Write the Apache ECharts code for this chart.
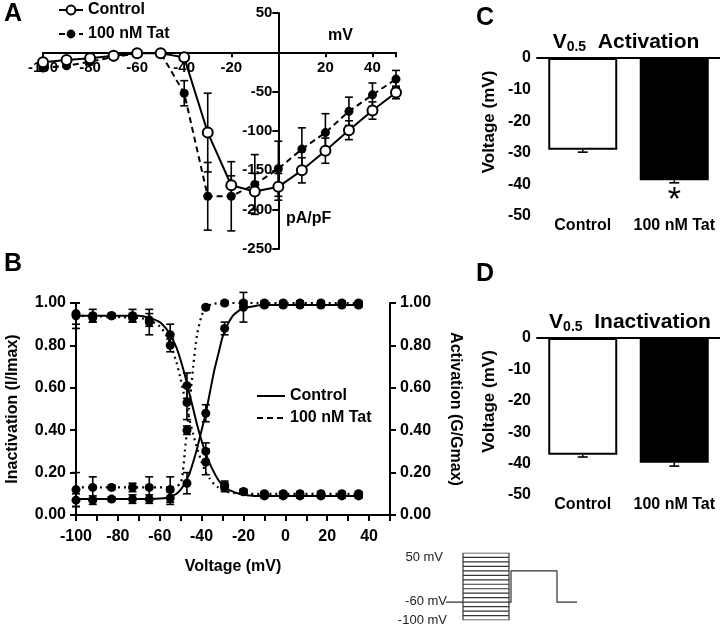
<!DOCTYPE html>
<html>
<head>
<meta charset="utf-8">
<script src="https://cdn.jsdelivr.net/npm/echarts@6/dist/echarts.min.js"></script>
<style>
  html, body { margin: 0; padding: 0; background: #fff; }
  #chart { width: 720px; height: 628px; }
</style>
</head>
<body>
<div id="chart"></div>
<script>
const FONT = "Liberation Sans, Arial, sans-serif";

// ---- panel A: I-V curve (pA/pF vs mV) ----
const ivVolt = [-100, -90, -80, -70, -60, -50, -40, -30, -20, -10, 0, 10, 20, 30, 40, 50];
const ivCtrl = [-12.7, -9.7, -7.6, -4.2, -1.3, -1.3, -6.4, -102, -169, -177, -171, -150, -125, -99, -74, -51];
const ivCtrlErr = [2, 2, 2, 2, 1, 1, 3, 50, 12, 23, 17, 16, 16, 12, 11, 8];
const ivTat = [-20, -17, -12, -6, -1, -1, -52, -183, -183, -168, -148, -123, -102, -75, -54, -34];
const ivTatErr = [2, 2, 2, 2, 1, 1, 16, 43, 44, 38, 35, 27, 24, 18, 15, 11];

// ---- panel B: steady-state activation / inactivation ----
const bVolt = [-100, -92, -83, -73, -65, -55, -47, -38, -29, -20, -10, -1, 7, 17, 27, 35];
const inactCtrl = [0.94, 0.94, 0.94, 0.94, 0.92, 0.85, 0.61, 0.30, 0.14, 0.11, 0.09, 0.09, 0.09, 0.09, 0.09, 0.09];
const inactCtrlErr = [0.06, 0.03, 0.01, 0.03, 0.03, 0.05, 0.06, 0.04, 0.02, 0.01, 0.01, 0.01, 0.01, 0.01, 0.01, 0.01];
const inactTat = [0.95, 0.93, 0.94, 0.93, 0.91, 0.80, 0.53, 0.25, 0.13, 0.11, 0.10, 0.10, 0.10, 0.10, 0.10, 0.10];
const inactTatErr = [0.05, 0.02, 0.01, 0.02, 0.06, 0.03, 0.08, 0.06, 0.02, 0.01, 0.01, 0.01, 0.01, 0.01, 0.01, 0.01];
const actCtrl = [0.07, 0.07, 0.075, 0.075, 0.075, 0.08, 0.15, 0.48, 0.88, 0.98, 0.99, 0.99, 0.99, 0.99, 0.99, 0.99];
const actCtrlErr = [0.03, 0.02, 0.01, 0.02, 0.02, 0.03, 0.05, 0.04, 0.03, 0.07, 0.01, 0.01, 0.01, 0.01, 0.01, 0.01];
const actTat = [0.12, 0.13, 0.13, 0.13, 0.13, 0.12, 0.40, 0.98, 1.00, 1.00, 1.00, 1.00, 1.00, 1.00, 1.00, 1.00];
const actTatErr = [0.08, 0.05, 0.01, 0.02, 0.05, 0.06, 0.02, 0.01, 0.01, 0.01, 0.01, 0.01, 0.01, 0.01, 0.01, 0.01];

// Boltzmann fit curves as [mV, value]
const fitInactCtrl = [[-100,0.94],[-70,0.94],[-65,0.93],[-60,0.91],[-57,0.88],[-55,0.85],[-52,0.79],[-50,0.73],[-48,0.66],[-46,0.58],[-44,0.50],[-42,0.42],[-40,0.35],[-38,0.29],[-36,0.24],[-34,0.20],[-32,0.165],[-30,0.14],[-28,0.125],[-25,0.11],[-22,0.10],[-20,0.095],[-15,0.09],[35,0.09]];
const fitInactTat = [[-100,0.94],[-70,0.93],[-65,0.92],[-60,0.89],[-57,0.85],[-55,0.81],[-52,0.72],[-50,0.64],[-48,0.55],[-46,0.46],[-44,0.38],[-42,0.31],[-40,0.25],[-38,0.20],[-36,0.17],[-34,0.145],[-32,0.13],[-30,0.12],[-28,0.11],[-25,0.105],[-20,0.10],[35,0.10]];
const fitActCtrl = [[-100,0.075],[-65,0.076],[-60,0.078],[-57,0.08],[-55,0.085],[-52,0.10],[-50,0.12],[-48,0.15],[-46,0.19],[-44,0.25],[-42,0.32],[-40,0.40],[-38,0.48],[-36,0.58],[-34,0.68],[-32,0.76],[-30,0.84],[-28,0.89],[-25,0.94],[-22,0.965],[-20,0.975],[-15,0.985],[-10,0.99],[35,0.99]];
const fitActTat = [[-100,0.13],[-55,0.13],[-52,0.135],[-50,0.15],[-49,0.2],[-48,0.30],[-47,0.40],[-46,0.50],[-45,0.60],[-44,0.70],[-43,0.79],[-42,0.86],[-40,0.94],[-38,0.98],[-35,0.995],[-30,1.0],[35,1.0]];

// ---- panels C, D: V0.5 bars ----
const groups = ["Control", "100 nM Tat"];
const v05Act = [-29.0, -38.7];
const v05ActErr = [0.8, 0.8];
const v05Inact = [-37.2, -39.7];
const v05InactErr = [0.7, 1.1];

// ---- voltage protocol sketch ----
const protoLevels = [-100, -90, -80, -70, -60, -50, -40, -30, -20, -10, 0, 10, 20, 30, 40, 50];
const protoBox = [17, 63];
const protoLead = [[0, -60], [17, -60]];
const protoTest = [[63, -60], [65, -60], [65, 10], [111, 10], [111, -60], [131, -60]];

const zip = (xs, ys, es) => xs.map((x, i) => es ? [x, ys[i], es[i]] : [x, ys[i]]);

function errBars(cap, oneSided) {
  return (params, api) => {
    const x = api.value(0), y = api.value(1), e = api.value(2);
    const hi = api.coord([x, oneSided ? y : y + e]);
    const lo = api.coord([x, y - e]);
    const style = { stroke: "#000", lineWidth: 1.6 };
    const kids = [
      { type: "line", shape: { x1: hi[0], y1: hi[1], x2: lo[0], y2: lo[1] }, style },
      { type: "line", shape: { x1: lo[0] - cap, y1: lo[1], x2: lo[0] + cap, y2: lo[1] }, style }
    ];
    if (!oneSided) kids.push({ type: "line", shape: { x1: hi[0] - cap, y1: hi[1], x2: hi[0] + cap, y2: hi[1] }, style });
    return { type: "group", children: kids };
  };
}

// panel A axes cross at the origin: shift them in from the grid edges
const gridA = { left: 43, top: 13, width: 353, height: 236 };
const ivX = [-100, 50], ivY = [-250, 50];
const xOffA = -gridA.height * (0 - ivY[0]) / (ivY[1] - ivY[0]);
const yOffA = -gridA.width * (0 - ivX[0]) / (ivX[1] - ivX[0]);

const line2 = { color: "#000", width: 2 };
const lbl = (size, extra) => Object.assign({ color: "#000", fontWeight: "bold", fontSize: size, fontFamily: FONT }, extra);

const chart = echarts.init(document.getElementById("chart"), null, { renderer: "canvas" });

const option = {
  backgroundColor: "#fff",
  animation: false,
  textStyle: { fontFamily: FONT, color: "#000" },
  grid: [
    gridA,                                            // A
    { left: 76, top: 303, width: 314, height: 212 },  // B
    { left: 537, top: 58, width: 183, height: 158 },  // C
    { left: 537, top: 338, width: 183, height: 157 }, // D
    { left: 446, top: 553, width: 131, height: 67 }   // protocol
  ],
  xAxis: [
    { gridIndex: 0, type: "value", min: ivX[0], max: ivX[1], interval: 20,
      position: "bottom", offset: xOffA, splitLine: { show: false },
      axisLine: { onZero: false, lineStyle: line2 }, axisTick: { length: 5, lineStyle: line2 },
      axisLabel: lbl(15, { margin: 8, formatter: v => (v === 0 || v === ivX[1]) ? "" : v }) },
    { gridIndex: 1, type: "value", min: -100, max: 50, interval: 10, splitLine: { show: false },
      axisLine: { onZero: false, lineStyle: line2 }, axisTick: { length: 6, lineStyle: line2 },
      axisLabel: lbl(16, { margin: 14, formatter: v => v % 20 === 0 ? v : "" }),
      name: "Voltage (mV)", nameLocation: "middle", nameGap: 44,
      nameTextStyle: lbl(16) },
    { gridIndex: 2, type: "category", data: groups, position: "bottom",
      axisLine: { show: false, onZero: false }, axisTick: { show: false },
      axisLabel: lbl(16, { margin: 2, interval: 0 }) },
    { gridIndex: 2, type: "category", data: groups, position: "top",
      axisLine: { onZero: false, lineStyle: line2 }, axisTick: { show: false }, axisLabel: { show: false } },
    { gridIndex: 3, type: "category", data: groups, position: "bottom",
      axisLine: { show: false, onZero: false }, axisTick: { show: false },
      axisLabel: lbl(16, { margin: 2, interval: 0 }) },
    { gridIndex: 3, type: "category", data: groups, position: "top",
      axisLine: { onZero: false, lineStyle: line2 }, axisTick: { show: false }, axisLabel: { show: false } },
    { gridIndex: 4, type: "value", min: 0, max: 131, show: false }
  ],
  yAxis: [
    { gridIndex: 0, type: "value", min: ivY[0], max: ivY[1], interval: 50,
      position: "left", offset: yOffA, splitLine: { show: false },
      axisLine: { onZero: false, lineStyle: line2 }, axisTick: { length: 6, lineStyle: line2 },
      axisLabel: lbl(15, { margin: 6, formatter: v => v === 0 ? "" : v }) },
    { gridIndex: 1, type: "value", min: 0, max: 1, interval: 0.2, splitLine: { show: false },
      axisLine: { onZero: false, lineStyle: line2 }, axisTick: { length: 6, lineStyle: line2 },
      axisLabel: lbl(16, { margin: 10, formatter: v => v.toFixed(2) }),
      name: "Inactivation (I/Imax)", nameLocation: "middle", nameGap: 55, nameRotate: 90,
      nameTextStyle: lbl(16) },
    { gridIndex: 1, type: "value", position: "right", min: 0, max: 1, interval: 0.2, splitLine: { show: false },
      axisLine: { onZero: false, lineStyle: line2 }, axisTick: { length: 6, lineStyle: line2 },
      axisLabel: lbl(16, { margin: 10, formatter: v => v.toFixed(2) }),
      name: "Activation (G/Gmax)", nameLocation: "middle", nameGap: 57, nameRotate: -90,
      nameTextStyle: lbl(16) },
    { gridIndex: 2, type: "value", min: -50, max: 0, interval: 10, splitLine: { show: false },
      axisLine: { onZero: false, lineStyle: line2 }, axisTick: { length: 6, lineStyle: line2 },
      axisLabel: lbl(16, { margin: 6 }),
      name: "Voltage (mV)", nameLocation: "middle", nameGap: 39, nameRotate: 90,
      nameTextStyle: lbl(17, { padding: [0, 0, 0, 30] }) },
    { gridIndex: 3, type: "value", min: -50, max: 0, interval: 10, splitLine: { show: false },
      axisLine: { onZero: false, lineStyle: line2 }, axisTick: { length: 6, lineStyle: line2 },
      axisLabel: lbl(16, { margin: 6 }),
      name: "Voltage (mV)", nameLocation: "middle", nameGap: 39, nameRotate: 90,
      nameTextStyle: lbl(17, { padding: [0, 0, 0, 30] }) },
    { gridIndex: 4, type: "value", min: -100, max: 50, show: false }
  ],
  title: [
    { text: "{v|V}{s|0.5}{t|  Activation}", left: 621, top: 25, textAlign: "center",
      textStyle: { rich: {
        v: lbl(21), t: lbl(21),
        s: lbl(14, { verticalAlign: "bottom", padding: [10, 0, 0, 0] }) } } },
    { text: "{v|V}{s|0.5}{t|  Inactivation}", left: 625, top: 305, textAlign: "center",
      textStyle: { rich: {
        v: lbl(21), t: lbl(21),
        s: lbl(14, { verticalAlign: "bottom", padding: [10, 0, 0, 0] }) } } }
  ],
  legend: [
    { data: ["Control", "100 nM Tat"], orient: "vertical", left: 53, top: -3, itemGap: 8,
      itemWidth: 24, itemHeight: 11, textStyle: lbl(16) },
    { data: [
        { name: "Control (fit)", lineStyle: { type: "solid", color: "#000", width: 2 } },
        { name: "100 nM Tat (fit)", lineStyle: { type: [6, 4], color: "#000", width: 2 } }
      ],
      formatter: n => n.replace(" (fit)", ""),
      itemStyle: { opacity: 0 },
      orient: "vertical", left: 251, top: 383, itemGap: 6, itemWidth: 28, itemHeight: 12,
      textStyle: lbl(16) }
  ],
  graphic: [
    { type: "text", left: 4, top: 2, style: { text: "A", font: "bold 25px " + FONT, fill: "#000" } },
    { type: "text", left: 4, top: 252, style: { text: "B", font: "bold 25px " + FONT, fill: "#000" } },
    { type: "text", left: 476, top: 6, style: { text: "C", font: "bold 25px " + FONT, fill: "#000" } },
    { type: "text", left: 476, top: 262, style: { text: "D", font: "bold 25px " + FONT, fill: "#000" } },
    { type: "text", left: 328, top: 28, style: { text: "mV", font: "bold 16px " + FONT, fill: "#000" } },
    { type: "text", left: 286, top: 211, style: { text: "pA/pF", font: "bold 16px " + FONT, fill: "#000" } },
    { type: "text", right: 277, top: 551, style: { text: "50 mV", font: "13px " + FONT, fill: "#222" } },
    { type: "text", right: 273, top: 595, style: { text: "-60 mV", font: "13px " + FONT, fill: "#222" } },
    { type: "text", right: 273, top: 614, style: { text: "-100 mV", font: "13px " + FONT, fill: "#222" } }
  ],
  series: [
    // A
    { type: "custom", xAxisIndex: 0, yAxisIndex: 0, renderItem: errBars(4, false),
      data: zip(ivVolt, ivCtrl, ivCtrlErr), z: 2, silent: true },
    { type: "custom", xAxisIndex: 0, yAxisIndex: 0, renderItem: errBars(4, false),
      data: zip(ivVolt, ivTat, ivTatErr), z: 2, silent: true },
    { name: "100 nM Tat", type: "line", xAxisIndex: 0, yAxisIndex: 0, data: zip(ivVolt, ivTat),
      symbol: "circle", symbolSize: 9, itemStyle: { color: "#000" },
      lineStyle: { color: "#000", width: 2, type: [6, 4] }, z: 3 },
    { name: "Control", type: "line", xAxisIndex: 0, yAxisIndex: 0, data: zip(ivVolt, ivCtrl),
      symbol: "circle", symbolSize: 10, itemStyle: { color: "#fff", borderColor: "#000", borderWidth: 2 },
      lineStyle: { color: "#000", width: 2 }, z: 4 },

    // B fits
    { name: "Control (fit)", type: "line", xAxisIndex: 1, yAxisIndex: 1, data: fitInactCtrl,
      symbol: "none", smooth: 0.2, itemStyle: { color: "#000" }, lineStyle: { color: "#000", width: 2 }, z: 3 },
    { name: "Control (fit)", type: "line", xAxisIndex: 1, yAxisIndex: 2, data: fitActCtrl,
      symbol: "none", smooth: 0.2, itemStyle: { color: "#000" }, lineStyle: { color: "#000", width: 2 }, z: 3 },
    { name: "100 nM Tat (fit)", type: "line", xAxisIndex: 1, yAxisIndex: 1, data: fitInactTat,
      symbol: "none", smooth: 0.2, itemStyle: { color: "#000" }, lineStyle: { color: "#000", width: 2.2, type: [2, 4] }, z: 3 },
    { name: "100 nM Tat (fit)", type: "line", xAxisIndex: 1, yAxisIndex: 2, data: fitActTat,
      symbol: "none", smooth: 0.2, itemStyle: { color: "#000" }, lineStyle: { color: "#000", width: 2.2, type: [2, 4] }, z: 3 },
    // B error bars + points
    ...[[inactCtrl, inactCtrlErr, 1], [inactTat, inactTatErr, 1], [actCtrl, actCtrlErr, 2], [actTat, actTatErr, 2]]
      .flatMap(([vals, errs, yi]) => [
        { type: "custom", xAxisIndex: 1, yAxisIndex: yi, renderItem: errBars(4, false),
          data: zip(bVolt, vals, errs), z: 4, silent: true },
        { type: "scatter", xAxisIndex: 1, yAxisIndex: yi, data: zip(bVolt, vals),
          symbol: "circle", symbolSize: 9, itemStyle: { color: "#000", opacity: 1 }, z: 5 }
      ]),

    // C
    { type: "bar", xAxisIndex: 2, yAxisIndex: 3, barWidth: 69,
      data: [
        { value: v05Act[0], itemStyle: { color: "#fff", borderColor: "#000", borderWidth: 2 } },
        { value: v05Act[1], itemStyle: { color: "#000", borderColor: "#000", borderWidth: 2 } }
      ] },
    { type: "custom", xAxisIndex: 2, yAxisIndex: 3, renderItem: errBars(5, true),
      data: zip([0, 1], v05Act, v05ActErr), z: 3, silent: true },
    { type: "scatter", xAxisIndex: 2, yAxisIndex: 3, data: [[1, -45]], symbolSize: 0, silent: true,
      itemStyle: { opacity: 1 },
      label: { show: true, position: "inside", formatter: "*", fontSize: 34,
        color: "#000", textBorderWidth: 0, fontFamily: FONT } },

    // D
    { type: "bar", xAxisIndex: 4, yAxisIndex: 4, barWidth: 69,
      data: [
        { value: v05Inact[0], itemStyle: { color: "#fff", borderColor: "#000", borderWidth: 2 } },
        { value: v05Inact[1], itemStyle: { color: "#000", borderColor: "#000", borderWidth: 2 } }
      ] },
    { type: "custom", xAxisIndex: 4, yAxisIndex: 4, renderItem: errBars(5, true),
      data: zip([0, 1], v05Inact, v05InactErr), z: 3, silent: true },

    // protocol
    { type: "lines", coordinateSystem: "cartesian2d", xAxisIndex: 6, yAxisIndex: 5, polyline: true,
      lineStyle: { color: "#333", width: 1.2, opacity: 1 }, silent: true,
      data: [
        { coords: protoLead },
        { coords: protoTest },
        { coords: [[protoBox[0], -100], [protoBox[0], 50]] },
        { coords: [[protoBox[1], -100], [protoBox[1], 50]] },
        ...protoLevels.map(v => ({ coords: [[protoBox[0], v], [protoBox[1], v]] }))
      ] }
  ]
};

chart.setOption(option);
</script>
</body>
</html>
